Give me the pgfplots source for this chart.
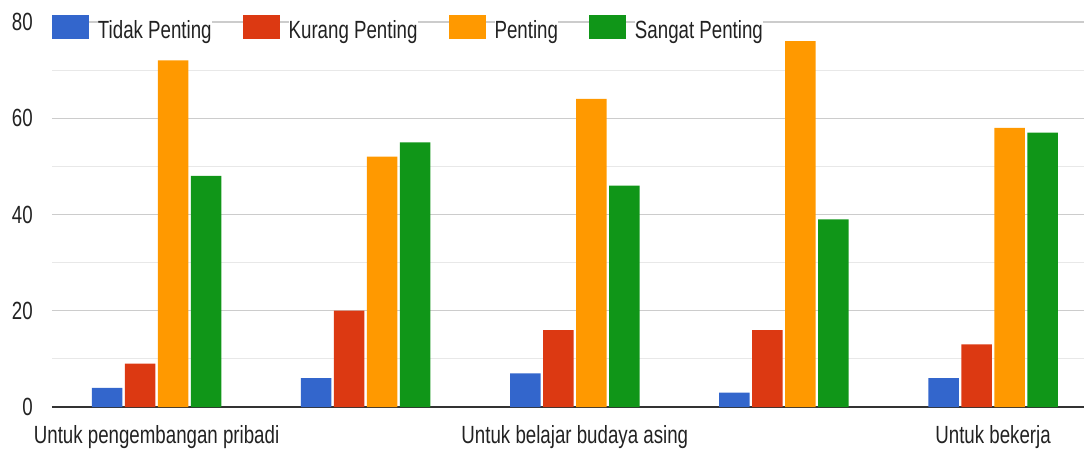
\documentclass[border=0pt]{standalone}
\usepackage{pgfplots}
\pgfplotsset{compat=1.18}
\usepackage{graphicx}
\usepackage{fontspec}
\setmainfont{Liberation Sans}
\definecolor{gblue}{HTML}{3366CC}
\definecolor{gred}{HTML}{DC3912}
\definecolor{gorange}{HTML}{FF9900}
\definecolor{ggreen}{HTML}{109618}
\definecolor{txt}{HTML}{222222}
\definecolor{gridmaj}{HTML}{CCCCCC}
\definecolor{gridmin}{HTML}{E8E8E8}
\definecolor{axl}{HTML}{333333}
\newcommand{\st}[1]{\scalebox{1}[1.33]{#1}}
\begin{document}
\begin{tikzpicture}
\useasboundingbox (-52pt,-48pt) rectangle (1032pt,407pt);
\begin{axis}[
  at={(0,0)}, anchor=south west,
  scale only axis, width=1032pt, height=385pt,
  xmin=-0.5, xmax=4.435, ymin=0, ymax=80,
  ybar=2.5pt, bar width=30.5pt,
  xtick={0,2,4},
  xticklabels={\st{Untuk pengembangan pribadi}, \st{Untuk belajar budaya asing}, \st{Untuk bekerja}},
  ytick={0,20,40,60,80}, minor ytick={10,30,50,70},
  ymajorgrids, yminorgrids,
  major grid style={draw=gridmaj, line width=1.2pt},
  minor grid style={draw=gridmin, line width=1.2pt},
  axis x line*=bottom, axis y line*=left,
  x axis line style={-, draw=axl, line width=1.6pt},
  y axis line style={draw=none},
  major tick length=0pt, minor tick length=0pt,
  tick style={draw=none},
  /pgf/number format/assume math mode=true,
  font=\fontsize{18.7}{22}\selectfont,
  ticklabel style={font=\fontsize{18.7}{22}\selectfont, text=txt, inner sep=0pt},
  xticklabel style={yshift=-18pt},
  yticklabel={\st{\pgfmathprintnumber{\tick}}},
  yticklabel style={xshift=-19pt},
  legend columns=4,
  legend style={at={(0,1)}, anchor=west, yshift=-5.5pt,
    draw=none, fill=none, inner sep=0pt, outer sep=0pt,
    font=\fontsize{18.7}{22}\selectfont,
    nodes={inner sep=0pt, fill=white, text=txt},
    /tikz/every odd column/.style={column sep=9pt},
    /tikz/every even column/.style={column sep=31pt}},
  gbox/.style={legend image code/.code={\fill[##1, draw=none] (0pt,-9pt) rectangle (37pt,15pt);}},
]
\addplot[fill=gblue, draw=none, gbox] coordinates {(0,4) (1,6) (2,7) (3,3) (4,6)};
\addplot[fill=gred, draw=none, gbox] coordinates {(0,9) (1,20) (2,16) (3,16) (4,13)};
\addplot[fill=gorange, draw=none, gbox] coordinates {(0,72) (1,52) (2,64) (3,76) (4,58)};
\addplot[fill=ggreen, draw=none, gbox] coordinates {(0,48) (1,55) (2,46) (3,39) (4,57)};
\legend{\st{Tidak Penting}, \st{Kurang Penting}, \st{Penting}, \st{Sangat Penting}}
\end{axis}
\end{tikzpicture}
\end{document}
